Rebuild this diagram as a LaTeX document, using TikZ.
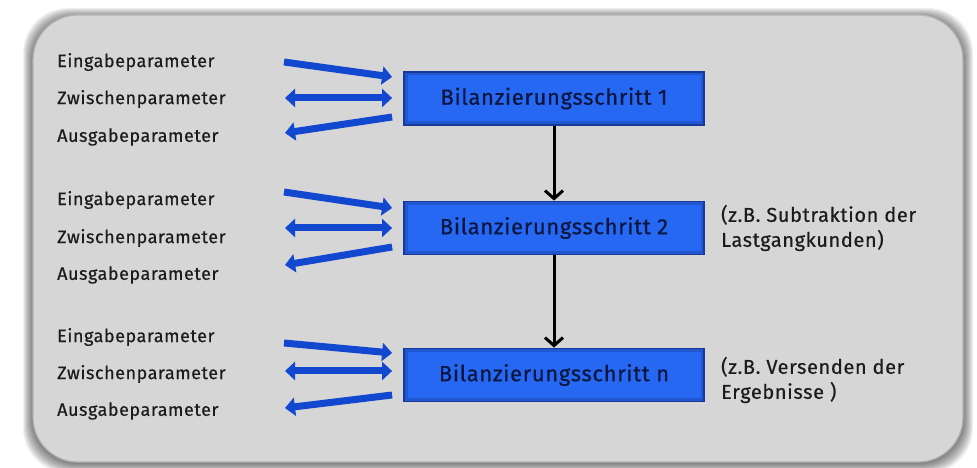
\documentclass[tikz,border=0pt]{standalone}
\usepackage{fontspec}
\setmainfont{Fira Sans}
\newfontfamily\paramfont{Fira Sans}[LetterSpace=3,FakeBold=0.5]
\usetikzlibrary{arrows.meta,positioning}

\definecolor{panelGrey}{RGB}{214,214,214}
\definecolor{panelEdge}{RGB}{180,180,180}
\definecolor{boxBlue}{RGB}{38,104,242}
\definecolor{boxEdge}{RGB}{22,58,150}
\definecolor{boxText}{RGB}{12,22,62}
\definecolor{arrowBlue}{RGB}{18,72,208}
\definecolor{labelText}{RGB}{28,28,28}

\tikzset{
  schritt/.style={draw=boxEdge,line width=1.8pt,fill=boxBlue,minimum width=300pt,
    minimum height=53pt,inner sep=0pt,text=boxText,
    font=\paramfont\fontsize{22}{26}\selectfont,
    path picture={\draw[boxEdge,opacity=0.35,line width=7pt]
      (path picture bounding box.south west) rectangle (path picture bounding box.north east);}},
  param/.style={anchor=west,inner sep=0pt,text=labelText,
    font=\paramfont\fontsize{18}{21}\selectfont},
  note/.style={anchor=west,align=left,inner sep=0pt,text=labelText,
    font=\paramfont\fontsize{20}{25}\selectfont},
  flow/.style={draw=arrowBlue,line width=7pt,-{Triangle[length=10pt,width=18pt]}},
  flowboth/.style={draw=arrowBlue,line width=7pt,
    {Triangle[length=10pt,width=18pt]}-{Triangle[length=10pt,width=18pt]}},
  next/.style={draw=black,line width=3pt,-{Straight Barb[length=8pt,width=18pt]}}
}

\begin{document}
\begin{tikzpicture}[x=1pt,y=1pt]
\path[use as bounding box,fill=white] (0,0) rectangle (977,468);

% panel and its shadow
\foreach \i in {1,...,10}
  \fill[black,opacity=0.06,rounded corners=45pt] (33-\i,6-\i-1) rectangle (963+\i,453+\i-3);
\filldraw[fill=panelGrey,draw=panelEdge,line width=1.2pt,rounded corners=45pt] (33,6) rectangle (963,453);

% steps
\node[schritt] (s1) at (554,369.5) {Bilanzierungsschritt 1};
\node[schritt] (s2) at (554,240) {Bilanzierungsschritt 2};
\node[schritt] (sn) at (554,93) {Bilanzierungsschritt n};

\draw[next] (s1) -- (s2);
\draw[next] (s2) -- (sn);

\node[note,right=16pt of s2] (n2) {(z.B. Subtraktion der\\Lastgangkunden)};
\node[note,right=16pt of sn,yshift=-5pt] (nn) {(z.B. Versenden der\\Ergebnisse )};

% parameters, step 1
\node[param] (ein1) at (57,406) {Eingabeparameter};
\node[param] (zw1) at (57,369) {Zwischenparameter};
\node[param] (aus1) at (57,331) {Ausgabeparameter};
\coordinate (ein1t) at (284,406);
\coordinate (zw1t) at (285,370);
\coordinate (aus1h) at (285,335);
\draw[flow] (ein1t) -- ([xshift=-11pt,yshift=21.5pt]s1.west);
\draw[flowboth] (zw1t) -- ([xshift=-11pt,yshift=0.5pt]s1.west);
\draw[flow] ([xshift=-11pt,yshift=-18.5pt]s1.west) -- (aus1h);

% parameters, step 2
\node[param] (ein2) at (57,268) {Eingabeparameter};
\node[param] (zw2) at (57,230) {Zwischenparameter};
\node[param] (aus2) at (57,193) {Ausgabeparameter};
\coordinate (ein2t) at (284,276);
\coordinate (zw2t) at (285,240);
\coordinate (aus2h) at (285,203);
\draw[flow] (ein2t) -- ([xshift=-11pt,yshift=20pt]s2.west);
\draw[flowboth] (zw2t) -- ([xshift=-11pt]s2.west);
\draw[flow] ([xshift=-11pt,yshift=-19pt]s2.west) -- (aus2h);

% parameters, step n
\node[param] (ein3) at (57,131) {Eingabeparameter};
\node[param] (zw3) at (57,94) {Zwischenparameter};
\node[param] (aus3) at (57,57) {Ausgabeparameter};
\coordinate (ein3t) at (284,125);
\coordinate (zw3t) at (285,97);
\coordinate (aus3h) at (285,60);
\draw[flow] (ein3t) -- ([xshift=-11pt,yshift=22pt]sn.west);
\draw[flowboth] (zw3t) -- ([xshift=-11pt,yshift=4pt]sn.west);
\draw[flow] ([xshift=-11pt,yshift=-20pt]sn.west) -- (aus3h);
\end{tikzpicture}
\end{document}
